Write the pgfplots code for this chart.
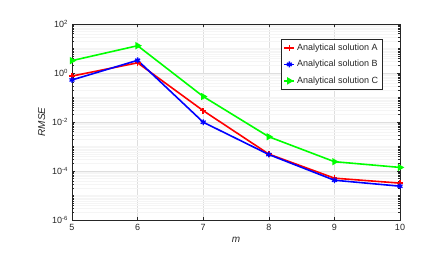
\documentclass[border=0pt]{standalone}
\usepackage{pgfplots}
\pgfplotsset{compat=1.18}
\usepackage{fontspec}
\setmainfont{Liberation Sans}
\definecolor{axc}{HTML}{262626}
\definecolor{gA}{HTML}{00FF00}
\begin{document}
\begin{tikzpicture}[x=1pt,y=1pt]
\path[use as bounding box] (0,0) rectangle (443,262);
\begin{axis}[
  at={(72pt,42pt)}, anchor=south west,
  scale only axis, width=328pt, height=196pt,
  ymode=log,
  xmin=5, xmax=10, ymin=1e-6, ymax=1e2,
  xtick={5,6,7,8,9,10},
  ytick={1e-6,1e-4,1e-2,1,1e2},
  yticklabels={10\textsuperscript{-6},10\textsuperscript{-4},10\textsuperscript{-2},10\textsuperscript{0},10\textsuperscript{2}},
  minor ytick={1e-5,1e-3,1e-1,1e1,
   2e-6,3e-6,4e-6,5e-6,6e-6,7e-6,8e-6,9e-6,
   2e-5,3e-5,4e-5,5e-5,6e-5,7e-5,8e-5,9e-5,
   2e-4,3e-4,4e-4,5e-4,6e-4,7e-4,8e-4,9e-4,
   2e-3,3e-3,4e-3,5e-3,6e-3,7e-3,8e-3,9e-3,
   2e-2,3e-2,4e-2,5e-2,6e-2,7e-2,8e-2,9e-2,
   2e-1,3e-1,4e-1,5e-1,6e-1,7e-1,8e-1,9e-1,
   2,3,4,5,6,7,8,9,
   20,30,40,50,60,70,80,90},
  tick align=inside,
  major tick length=3pt, minor tick length=1.6pt,
  xmajorgrids, ymajorgrids, yminorgrids,
  major grid style={draw=black!13, line width=0.5pt},
  minor grid style={draw=black!4, line width=0.4pt},
  axis line style={draw=axc, line width=0.7pt},
  every tick/.style={draw=axc, line width=0.5pt},
  tick label style={font=\fontsize{9}{10}\selectfont, text=axc},
  /pgf/number format/assume math mode=true,
  xticklabel style={yshift=-0.5pt},
  yticklabel style={xshift=-0.5pt},
  xlabel={\textit{m}}, ylabel={\textit{RMSE}},
  label style={font=\fontsize{10}{11}\selectfont, text=axc},
  xlabel style={yshift=0pt},
  ylabel style={yshift=0pt},
  legend style={at={(0.948,0.923)}, anchor=north east, draw=axc, line width=0.5pt,
    font=\fontsize{9}{10}\selectfont, text=axc, row sep=4.5pt, inner sep=2.5pt,
    cells={anchor=west}},
  legend image code/.code={\draw[#1] (0pt,0pt) -- (10pt,0pt); \draw[#1] plot coordinates {(5pt,0pt)};},
]
\addplot[red, line width=1.6pt, mark=+, mark size=2.9pt, mark options={line width=1.6pt}] coordinates {
(5,0.75) (6,2.6) (7,0.029) (8,4.9e-4) (9,5.1e-5) (10,3.2e-5)};
\addlegendentry{Analytical solution A}
\addplot[blue, line width=1.6pt, mark=asterisk, mark size=2.9pt, mark options={line width=1.3pt}] coordinates {
(5,0.52) (6,3.3) (7,0.0098) (8,4.7e-4) (9,4.2e-5) (10,2.4e-5)};
\addlegendentry{Analytical solution B}
\addplot[gA, line width=1.6pt, mark=triangle*, mark size=2.7pt, mark options={rotate=-90}] coordinates {
(5,3.2) (6,13) (7,0.11) (8,2.5e-3) (9,2.4e-4) (10,1.4e-4)};
\addlegendentry{Analytical solution C}
\end{axis}
\end{tikzpicture}
\end{document}
